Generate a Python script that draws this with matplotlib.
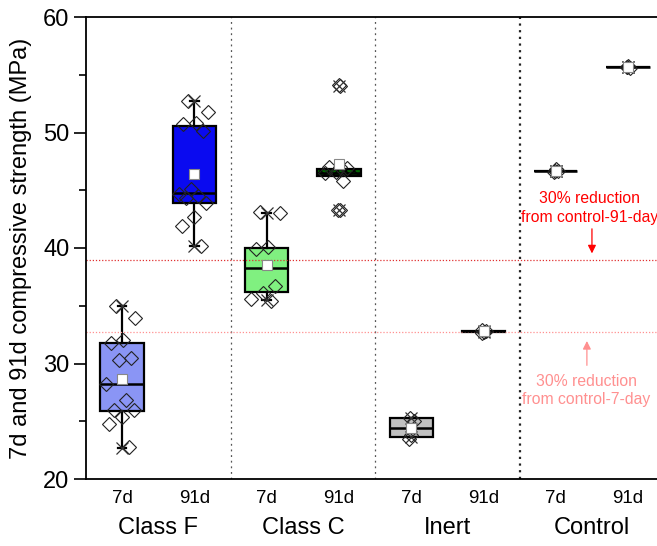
import numpy as np
import matplotlib
matplotlib.use("Agg")
import matplotlib.pyplot as plt

plt.rcParams['font.family'] = ['Liberation Sans', 'DejaVu Sans']

# ---------------- data ----------------
groups = ["Class F", "Class C", "Inert", "Control"]
ages = ["7d", "91d", "7d", "91d", "7d", "91d", "7d", "91d"]

classF_7d = [35.0, 33.9, 32.0, 31.8, 30.5, 30.3, 28.2, 26.8, 26.0, 26.0, 25.4, 24.8, 22.8]
classF_91d = [52.7, 51.8, 50.8, 50.7, 50.1, 45.1, 44.7, 44.5, 44.3, 43.9, 42.7, 41.9, 40.2]
classC_7d = [43.1, 43.0, 40.1, 39.9, 36.7, 36.1, 35.6, 35.4]
classC_91d = [54.1, 54.0, 47.0, 47.0, 46.9, 46.6, 46.5, 45.8, 43.3, 43.3]
inert_7d = [25.3, 25.0, 23.8, 23.5]
inert_91d = [32.9, 32.8, 32.7, 32.6]
control_7d = [46.7, 46.7, 46.8, 46.6]
control_91d = [55.7, 55.6, 55.8, 55.7]

q1 = [25.9, 43.9, 36.2, 46.2, 23.6, 32.75, 46.7, 55.7]
median = [28.2, 44.8, 38.3, 46.5, 24.4, 32.8, 46.7, 55.7]
q3 = [31.8, 50.6, 40.0, 46.8, 25.3, 32.85, 46.7, 55.7]
whislo = [22.7, 40.2, 35.5, 46.2, 23.6, 32.75, 46.7, 55.7]
whishi = [35.0, 52.7, 43.0, 46.8, 25.3, 32.85, 46.7, 55.7]
means = [28.7, 46.4, 38.55, 47.27, 24.4, 32.8, 46.7, 55.7]
extreme_markers = [[22.7, 35.0], [40.2, 52.7], [35.5, 43.0], [43.3, 54.0],
                   [23.6, 25.3], [32.7, 32.8], [46.7, 46.7], [55.7, 55.7]]

control_91_value = 55.7
control_7_value = 46.7
reduction = 0.30

# ---------------- style ----------------
fills = ["#8A95F5", "#0A0AF0", "#80F080", "#006400",
         "#C0C0C0", "#C0C0C0", "#FFFFFF", "#FFFFFF"]
hatches = [None, None, None, "xxxx", None, None, None, None]
jitter_amp = [0.22, 0.22, 0.22, 0.2, 0.04, 0.04, 0.03, 0.03]

all_points = [classF_7d, classF_91d, classC_7d, classC_91d,
              inert_7d, inert_91d, control_7d, control_91d]
positions = np.arange(1, 9)

fig = plt.figure(figsize=(6.57, 5.46), dpi=100)
ax = fig.add_axes([86/657, 67/546, 571/657, 462/546])

stats = []
for i in range(8):
    stats.append(dict(q1=q1[i], med=median[i], q3=q3[i],
                      whislo=whislo[i], whishi=whishi[i], fliers=[]))

bp = ax.bxp(stats, positions=positions, widths=0.6, patch_artist=True,
            showfliers=False, capwidths=0.12,
            boxprops=dict(linewidth=1.6, edgecolor='black'),
            medianprops=dict(color='black', linewidth=1.8),
            whiskerprops=dict(color='black', linewidth=1.6),
            capprops=dict(color='black', linewidth=1.6))
for patch, fc, h in zip(bp['boxes'], fills, hatches):
    patch.set_facecolor(fc)
    if h:
        patch.set_hatch(h)

# jittered points (far outliers kept near the centre line)
for i, pts in enumerate(all_points):
    p = np.asarray(pts)
    n = len(p)
    offs = ((np.arange(n) * 0.618 + 0.3) % 1.0 - 0.5) * 2 * jitter_amp[i]
    far = (p > whishi[i] + 2) | (p < whislo[i] - 2)
    offs[far] *= 0.08
    ax.plot(positions[i] + offs, p, linestyle='none', marker='D',
            markersize=7, markerfacecolor='none', markeredgecolor='#222222',
            markeredgewidth=0.8, zorder=4)

# extreme markers (x)
for i, ex in enumerate(extreme_markers):
    ax.plot([positions[i]] * len(ex), ex, linestyle='none', marker='x',
            markersize=8, color='#333333', markeredgewidth=0.9, zorder=5)

# means
ax.plot(positions, means, linestyle='none', marker='s', markersize=7,
        markerfacecolor='white', markeredgecolor='#888888',
        markeredgewidth=0.8, zorder=6)

# dividers
ax.axvline(2.5, color='#555555', linestyle=(0, (1.5, 3)), linewidth=0.9)
ax.axvline(4.5, color='#555555', linestyle=(0, (1.5, 3)), linewidth=0.9)
ax.axvline(6.5, color='#222222', linestyle=(0, (1, 2)), linewidth=1.6)

# reduction lines
l91 = control_91_value * (1 - reduction)
l7 = control_7_value * (1 - reduction)
ax.axhline(l91, color='#E03030', linestyle=(0, (1, 1.5)), linewidth=0.9)
ax.axhline(l7, color='#FF9090', linestyle=(0, (1, 1.5)), linewidth=0.9)

ax.annotate('', xy=(7.5, l91 + 0.3), xytext=(7.5, 41.9),
            arrowprops=dict(arrowstyle='-|>', color='#FF0000', lw=0.9,
                            mutation_scale=12))
ax.text(7.47, 43.45, "30% reduction\nfrom control-91-day", color='#FF0000',
        fontsize=11.3, ha='center', va='center', linespacing=1.3)
ax.annotate('', xy=(7.43, l7 - 0.5), xytext=(7.43, 29.6),
            arrowprops=dict(arrowstyle='-|>', color='#FF9090', lw=0.9,
                            mutation_scale=12))
ax.text(7.42, 27.65, "30% reduction\nfrom control-7-day", color='#FF9090',
        fontsize=11.3, ha='center', va='center', linespacing=1.3)

# axes
ax.set_xlim(0.5, 8.4)
ax.set_ylim(20, 60)
ax.set_xticks(positions)
ax.set_xticklabels(ages, fontsize=13.5)
ax.tick_params(axis='x', length=0, pad=8)
ax.set_yticks([20, 30, 40, 50, 60])
ax.set_yticks([25, 35, 45, 55], minor=True)
ax.tick_params(axis='y', which='major', direction='out', length=9, width=1.2,
               labelsize=17, pad=3)
ax.tick_params(axis='y', which='minor', direction='out', length=5, width=1.2)
for s in ['left', 'bottom', 'top']:
    ax.spines[s].set_linewidth(1.3)
ax.spines['right'].set_visible(False)
ax.set_ylabel("7d and 91d compressive strength (MPa)", fontsize=17, labelpad=8)

for k, g in enumerate(groups):
    ax.text(1.5 + 2 * k, -0.105, g, transform=ax.get_xaxis_transform(),
            ha='center', va='center', fontsize=17)

fig.savefig("out.png", dpi=100)
